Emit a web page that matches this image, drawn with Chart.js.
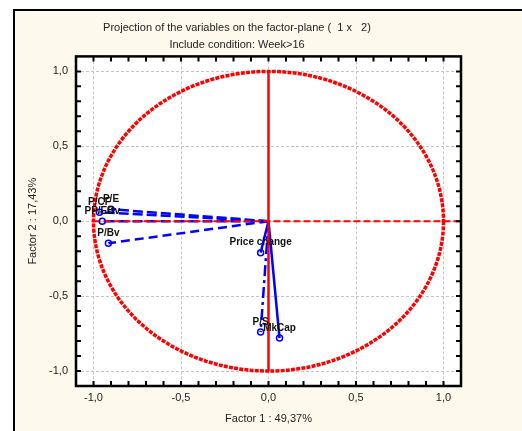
<!DOCTYPE html>
<html>
<head>
<meta charset="utf-8">
<script src="https://cdn.jsdelivr.net/npm/chart.js@4"></script>
<style>
  html, body { margin: 0; padding: 0; background: #fff; width: 522px; height: 431px; overflow: hidden; }
  #frame { position: absolute; left: 13px; top: 9px; width: 600px; height: 500px; border: 2px solid #000; background: #fdf9ed; }
  #chart { position: absolute; left: 13px; top: 10px; }
</style>
</head>
<body>
<div id="frame"></div>
<canvas id="chart" width="458" height="421"></canvas>
<script>
// variables projected on factor plane
const variables = ['P/E', 'P/CF', 'PP/EBv', 'P/Bv', 'Price change', 'P/S', 'MkCap'];
const factor1 = [-0.90, -0.966, -0.95, -0.915, -0.045, -0.045, 0.063];
const factor2 = [0.08, 0.06, 0.0, -0.147, -0.21, -0.74, -0.78];

const tickValues = [-1.0, -0.5, 0.0, 0.5, 1.0];
const tickLabels = ['-1,0', '-0,5', '0,0', '0,5', '1,0'];

const titleText = 'Projection of the variables on the factor-plane (  1 x   2)';
const subtitleText = 'Include condition: Week>16';
const xTitle = 'Factor 1 : 49,37%';
const yTitle = 'Factor 2 : 17,43%';

// line style per vector (solid = [])
const vectorDash = [[10, 4], [10, 4], [10, 4], [9, 5], [], [11, 4, 3, 4], []];

const BLUE = '#0000ff';
const RED = '#ff0000';
const FONT = 'Arial, "Liberation Sans", sans-serif';

function labelFor(v) {
  const i = tickValues.findIndex(t => Math.abs(t - v) < 1e-6);
  return i >= 0 ? tickLabels[i] : '';
}
function isMajor(v) {
  return tickValues.some(t => Math.abs(t - v) < 1e-6);
}

const vectorSets = variables.map((name, i) => ({
  label: name,
  data: [{x: 0, y: 0}, {x: factor1[i], y: factor2[i]}],
  showLine: true,
  borderColor: BLUE,
  borderWidth: 2.5,
  borderDash: vectorDash[i],
  pointRadius: 0,
  fill: false
}));

const markerSet = {
  label: 'points',
  data: variables.map((n, i) => ({x: factor1[i], y: factor2[i]})),
  showLine: false,
  pointRadius: 3,
  pointBorderWidth: 1.5,
  pointBorderColor: BLUE,
  pointBackgroundColor: 'rgba(0,0,0,0)'
};

const plotArea = {
  id: 'plotArea',
  beforeDraw(chart) {
    const {ctx, chartArea: a} = chart;
    ctx.save();
    ctx.fillStyle = '#fff';
    ctx.fillRect(a.left, a.top, a.right - a.left, a.bottom - a.top);
    ctx.restore();
  },
  afterDatasetDraw(chart, args) {
    // red reference lines & unit circle, drawn over the vectors but below markers
    if (args.index !== 1) return;
    const {ctx, chartArea: a} = chart;
    const xs = chart.scales.x, ys = chart.scales.y;
    const cx = xs.getPixelForValue(0), cy = ys.getPixelForValue(0);
    const rx = xs.getPixelForValue(1) - cx, ry = cy - ys.getPixelForValue(1);
    ctx.save();
    ctx.strokeStyle = RED;
    ctx.lineWidth = 3.5;
    ctx.setLineDash([4, 1.2]);
    ctx.beginPath();
    ctx.ellipse(cx, cy, rx, ry, 0, 0, Math.PI * 2);
    ctx.stroke();
    ctx.lineWidth = 2;
    ctx.setLineDash([7, 3]);
    ctx.beginPath();
    ctx.moveTo(xs.getPixelForValue(-1), cy);
    ctx.lineTo(a.right, cy);
    ctx.stroke();
    ctx.setLineDash([]);
    ctx.lineWidth = 2.5;
    ctx.beginPath();
    ctx.moveTo(cx, ys.getPixelForValue(1));
    ctx.lineTo(cx, ys.getPixelForValue(-1));
    ctx.stroke();
    ctx.restore();
  },
  afterDatasetsDraw(chart) {
    const {ctx} = chart;
    const xs = chart.scales.x, ys = chart.scales.y;
    ctx.save();
    ctx.fillStyle = '#111';
    ctx.font = 'bold 10px ' + FONT;
    ctx.textAlign = 'center';
    ctx.textBaseline = 'middle';
    variables.forEach((name, i) => {
      ctx.fillText(name, xs.getPixelForValue(factor1[i]), ys.getPixelForValue(factor2[i]) - 10);
    });
    ctx.restore();
  },
  afterDraw(chart) {
    const {ctx, chartArea: a} = chart;
    const xs = chart.scales.x, ys = chart.scales.y;
    ctx.save();
    ctx.strokeStyle = '#000';
    ctx.lineWidth = 2;
    ctx.beginPath();
    xs.ticks.forEach(t => {
      const px = xs.getPixelForValue(t.value);
      if (px - a.left < 3 || a.right - px < 3) return;
      ctx.moveTo(px, a.bottom); ctx.lineTo(px, a.bottom - 5);
      ctx.moveTo(px, a.top); ctx.lineTo(px, a.top + 5);
    });
    ys.ticks.forEach(t => {
      const py = ys.getPixelForValue(t.value);
      if (py - a.top < 3 || a.bottom - py < 3) return;
      ctx.moveTo(a.left, py); ctx.lineTo(a.left + 5, py);
      ctx.moveTo(a.right, py); ctx.lineTo(a.right - 5, py);
    });
    ctx.stroke();
    ctx.lineWidth = 2.5;
    ctx.strokeRect(a.left, a.top, a.right - a.left, a.bottom - a.top);
    ctx.restore();
  }
};

const axisCommon = {
  type: 'linear',
  min: -1.1,
  max: 1.1,
  ticks: {
    stepSize: 0.1,
    autoSkip: false,
    maxRotation: 0,
    color: '#222',
    font: {family: FONT, size: 11},
    callback: v => labelFor(v)
  },
  grid: {
    drawTicks: false,
    color: c => (c.tick && isMajor(c.tick.value)) ? '#c4c4c4' : 'rgba(0,0,0,0)',
    lineWidth: 1
  },
  border: {display: false, dash: [3, 2]}
};

new Chart(document.getElementById('chart'), {
  type: 'scatter',
  data: {datasets: [markerSet, ...vectorSets]},
  options: {
    responsive: false,
    animation: false,
    devicePixelRatio: 1,
    layout: {padding: {left: 0, right: 10, top: 0, bottom: 0}},
    plugins: {
      legend: {display: false},
      tooltip: {enabled: false},
      title: {
        display: true,
        text: titleText,
        color: '#222',
        font: {family: FONT, size: 11, weight: 'normal'},
        padding: {top: 11, bottom: 4}
      },
      subtitle: {
        display: true,
        text: subtitleText,
        color: '#222',
        font: {family: FONT, size: 11, weight: 'normal'},
        padding: {top: 0, bottom: 5}
      }
    },
    scales: {
      x: {
        ...axisCommon,
        position: 'bottom',
        ticks: {...axisCommon.ticks, padding: 5},
        title: {display: true, text: xTitle, color: '#222', font: {family: FONT, size: 11}, padding: {top: 0, bottom: 5}},
        afterFit: s => { s.height = 45; }
      },
      y: {
        ...axisCommon,
        position: 'left',
        ticks: {...axisCommon.ticks, padding: 8},
        title: {display: true, text: yTitle, color: '#222', font: {family: FONT, size: 11}, padding: {top: 13, bottom: 0}},
        afterFit: s => { s.width = 63; }
      }
    }
  },
  plugins: [plotArea]
});
</script>
</body>
</html>
